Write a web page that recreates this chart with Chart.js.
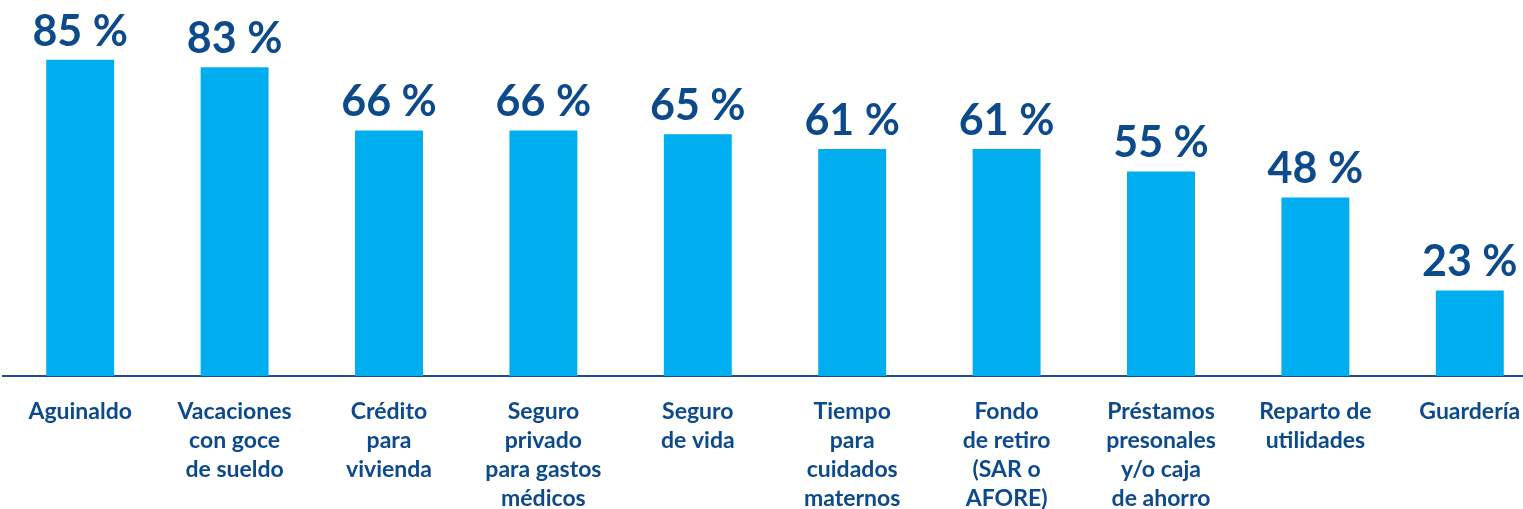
<!DOCTYPE html>
<html>
<head>
<meta charset="utf-8">
<script src="https://cdn.jsdelivr.net/npm/chart.js@4"></script>
<style>
  html, body { margin: 0; padding: 0; background: #fff; overflow: hidden; }
  #wrap { position: relative; width: 1560px; height: 509px; }
</style>
</head>
<body>
<div id="wrap"><canvas id="chart"></canvas></div>
<script>
// Datos
const categories = [
    ['Aguinaldo'],
    ['Vacaciones', 'con goce', 'de sueldo'],
    ['Crédito', 'para', 'vivienda'],
    ['Seguro', 'privado', 'para gastos', 'médicos'],
    ['Seguro', 'de vida'],
    ['Tiempo', 'para', 'cuidados', 'maternos'],
    ['Fondo', 'de retiro', '(SAR o', 'AFORE)'],
    ['Préstamos', 'presonales', 'y/o caja', 'de ahorro'],
    ['Reparto de', 'utilidades'],
    ['Guardería']
];
const values = [85, 83, 66, 66, 65, 61, 61, 55, 48, 23];

const BAR_COLOR = '#00adef';
const TEXT_COLOR = '#0d4a8c';
const AXIS_COLOR = '#1b4f91';

// Etiquetas de valor encima de cada barra
const valueLabels = {
    id: 'valueLabels',
    afterDatasetsDraw(chart) {
        const ctx = chart.ctx;
        const meta = chart.getDatasetMeta(0);
        ctx.save();
        ctx.font = 'bold 43px Lato';
        ctx.fillStyle = TEXT_COLOR;
        ctx.textAlign = 'center';
        ctx.textBaseline = 'alphabetic';
        meta.data.forEach((bar, i) => {
            ctx.fillText(values[i] + ' %', bar.x, bar.y - 14);
        });
        ctx.restore();
    }
};

new Chart(document.getElementById('chart'), {
    type: 'bar',
    data: {
        labels: categories,
        datasets: [{
            data: values,
            backgroundColor: BAR_COLOR,
            borderWidth: 0,
            categoryPercentage: 1,
            barPercentage: 0.44
        }]
    },
    options: {
        responsive: true,
        maintainAspectRatio: false,
        animation: false,
        layout: { padding: { left: 3, right: 13, top: 4, bottom: 0 } },
        plugins: {
            legend: { display: false },
            tooltip: { enabled: false }
        },
        scales: {
            x: {
                grid: { display: false, drawTicks: false },
                border: { display: true, color: AXIS_COLOR, width: 2 },
                ticks: {
                    color: TEXT_COLOR,
                    font: { family: 'Lato', size: 23, weight: 'bold', lineHeight: 29 / 23 },
                    padding: 21,
                    maxRotation: 0,
                    autoSkip: false
                },
                afterFit(scale) { scale.height = 133; }
            },
            y: {
                display: false,
                min: 0,
                max: 100
            }
        }
    },
    plugins: [valueLabels]
});
</script>
</body>
</html>
